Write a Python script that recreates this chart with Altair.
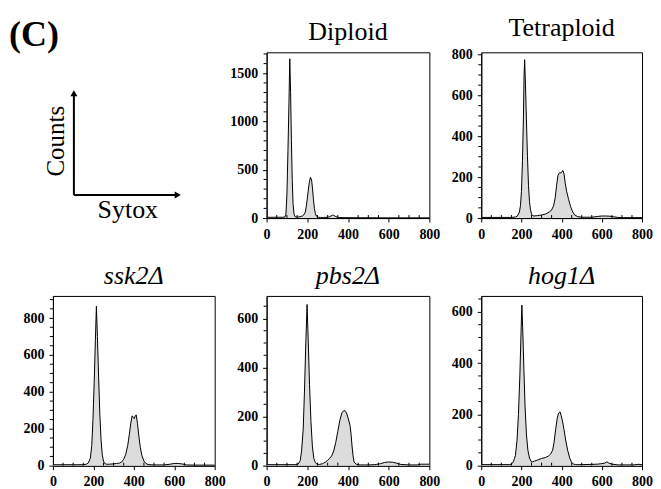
import altair as alt
import pandas as pd

FONT = "Liberation Serif"

# ---------------- data ----------------
dip_x = [0, 20, 40, 60, 80, 90, 95, 100, 105, 110, 114, 118, 122, 126, 130, 135, 140, 150, 160, 170,
         175, 180, 190, 195, 200, 205, 210, 215, 218, 222, 226, 230, 235, 240, 245, 250, 256, 265, 280,
         300, 310, 320, 325, 330, 340, 350, 360, 380, 400, 450, 500, 600, 700, 800]
dip_y = [8, 8, 8, 8, 8, 10, 40, 250, 700, 1200, 1650, 1300, 800, 400, 150, 40, 15, 10, 12, 18,
         20, 25, 60, 120, 200, 290, 370, 420, 415, 380, 300, 200, 100, 45, 20, 12, 8, 6, 6,
         8, 15, 25, 30, 28, 15, 8, 5, 4, 4, 3, 3, 2, 2, 2]

tet_x = [0, 50, 100, 150, 170, 180, 190, 195, 200, 205, 210, 213, 216, 220, 225, 230, 235, 240, 245,
         250, 255, 262, 280, 300, 320, 340, 350, 360, 368, 375, 382, 390, 396, 402, 407, 412, 418,
         425, 435, 445, 455, 465, 480, 500, 550, 580, 600, 620, 640, 660, 680, 700, 800]
tet_y = [3, 3, 3, 3, 5, 10, 30, 60, 130, 280, 500, 700, 775, 650, 470, 300, 160, 80, 40,
         20, 12, 10, 12, 15, 20, 30, 40, 60, 100, 160, 210, 222, 220, 228, 232, 215, 170,
         130, 90, 55, 30, 15, 7, 4, 4, 8, 10, 10, 9, 6, 3, 2, 2]

ssk_x = [0, 50, 100, 150, 165, 175, 185, 192, 198, 204, 210, 215, 220, 226, 232, 238, 244, 250, 256,
         265, 280, 300, 315, 330, 340, 350, 360, 370, 378, 385, 392, 397, 402, 407, 412, 418, 425,
         432, 440, 450, 460, 470, 480, 500, 550, 580, 600, 620, 640, 660, 700, 800]
ssk_y = [5, 5, 5, 5, 8, 15, 40, 110, 250, 450, 680, 864, 700, 480, 280, 140, 60, 25, 12,
         8, 8, 10, 12, 14, 20, 35, 60, 110, 170, 230, 270, 262, 255, 270, 275, 230, 160,
         100, 55, 25, 12, 6, 5, 4, 4, 8, 12, 12, 9, 4, 3, 3]

pbs_x = [0, 50, 100, 140, 155, 165, 172, 180, 186, 192, 199, 205, 211, 218, 225, 232, 240, 248, 260,
         275, 290, 300, 310, 320, 330, 340, 350, 360, 370, 380, 388, 395, 402, 410, 415, 420, 425,
         430, 440, 450, 460, 480, 500, 530, 560, 580, 600, 620, 640, 660, 700, 740, 760, 780, 800]
pbs_y = [4, 4, 4, 4, 6, 20, 60, 150, 300, 480, 657, 500, 330, 180, 80, 30, 12, 6, 5,
         8, 15, 22, 30, 40, 60, 95, 140, 185, 215, 225, 222, 210, 190, 165, 130, 80, 40,
         15, 6, 4, 3, 3, 3, 4, 8, 13, 15, 14, 10, 5, 3, 3, 6, 6, 6]

hog_x = [0, 50, 100, 140, 150, 160, 170, 178, 185, 192, 198, 202, 206, 212, 218, 225, 232, 240, 248,
         255, 265, 280, 300, 320, 335, 345, 355, 362, 370, 378, 385, 392, 398, 405, 412, 420, 430,
         440, 450, 460, 470, 480, 500, 550, 580, 600, 615, 625, 635, 650, 680, 720, 760, 780, 790, 800]
hog_y = [4, 4, 4, 4, 6, 15, 40, 100, 200, 350, 520, 626, 540, 380, 230, 120, 60, 30, 16,
         15, 18, 22, 28, 32, 38, 45, 60, 90, 140, 185, 205, 210, 195, 170, 140, 100, 60,
         30, 12, 6, 4, 4, 4, 5, 6, 8, 10, 15, 10, 6, 3, 3, 3, 5, 5, 3]

x_major = [0, 200, 400, 600, 800]
x_minor = [50, 100, 150, 250, 300, 350, 450, 500, 550, 650, 700, 750]


def axis(values):
    return alt.Axis(values=values, title=None, format="d", labelFont=FONT, labelFontSize=14,
                    labelFontWeight="bold", labelColor="black", tickColor="black", tickSize=4,
                    tickWidth=1, domainColor="black", domainWidth=1, grid=False,
                    labelPadding=5, labelFlush=False, labelOverlap=False)


def panel(title, italic, xs, ys, ymax, ymajor, ystep_minor, width, height):
    df = pd.DataFrame({"x": xs, "y": ys})
    xscale = alt.Scale(domain=[0, 800], nice=False, zero=False)
    yscale = alt.Scale(domain=[0, ymax], nice=False)
    xaxis = axis(x_major)
    yaxis = axis(ymajor)
    base = alt.Chart(df)
    area = base.mark_area(color="#dcdcdc", opacity=1).encode(
        x=alt.X("x:Q", scale=xscale, axis=xaxis),
        y=alt.Y("y:Q", scale=yscale, axis=yaxis),
    )
    line = base.mark_line(color="black", strokeWidth=1).encode(
        x=alt.X("x:Q", scale=xscale, axis=xaxis),
        y=alt.Y("y:Q", scale=yscale, axis=yaxis),
    )
    yminor = [v for v in range(0, int(ymax) + 1, ystep_minor) if v not in ymajor]
    xt = alt.Chart(pd.DataFrame({"x": x_minor})).mark_rule(color="black", strokeWidth=1).encode(
        x=alt.X("x:Q", scale=xscale, axis=xaxis),
        y=alt.value(height), y2=alt.value(height - 3),
    )
    yt = alt.Chart(pd.DataFrame({"y": yminor})).mark_rule(color="black", strokeWidth=1).encode(
        y=alt.Y("y:Q", scale=yscale, axis=yaxis),
        x=alt.value(0), x2=alt.value(-3),
    )
    t = alt.Title(title, font=FONT, fontSize=26, fontWeight="normal",
                  fontStyle="italic" if italic else "normal", color="black",
                  offset=7, anchor="middle")
    return alt.layer(area, line, xt, yt).properties(width=width, height=height, title=t)


# schematic cell "(C)" + axes arrows
one = pd.DataFrame({"a": [0]})
sb = alt.Chart(one)
# white corner anchor: fixes the chart's top-left corner
anchor = sb.mark_rule(color="white", strokeWidth=1).encode(
    x=alt.value(-44), x2=alt.value(-40), y=alt.value(-43))
label_c = sb.mark_text(font=FONT, fontSize=36, fontWeight="bold", align="left",
                       baseline="alphabetic", color="black").encode(
    x=alt.value(-44), y=alt.value(-6), text=alt.value("(C)"))
vline = sb.mark_rule(color="black", strokeWidth=2).encode(
    x=alt.value(21), y=alt.value(42), y2=alt.value(143))
hline = sb.mark_rule(color="black", strokeWidth=2).encode(
    x=alt.value(21), x2=alt.value(124), y=alt.value(143))
up_head = sb.mark_point(shape="triangle-up", filled=True, color="black", size=50, opacity=1).encode(
    x=alt.value(21), y=alt.value(41))
right_head = sb.mark_point(shape="triangle-right", filled=True, color="black", size=50, opacity=1).encode(
    x=alt.value(125), y=alt.value(143))
counts = sb.mark_text(font=FONT, fontSize=25, angle=270, align="center",
                      baseline="alphabetic", color="black").encode(
    x=alt.value(11), y=alt.value(89), text=alt.value("Counts"))
sytox = sb.mark_text(font=FONT, fontSize=26, align="center",
                     baseline="alphabetic", color="black").encode(
    x=alt.value(75), y=alt.value(166), text=alt.value("Sytox"))
schem = alt.layer(anchor, label_c, vline, hline, up_head, right_head, counts, sytox).properties(
    width=162, height=166, view=alt.ViewBackground(stroke="transparent"))

p_dip = panel("Diploid", False, dip_x, dip_y, 1717, [0, 500, 1000, 1500], 100, 163, 166)
p_tet = panel("Tetraploid", False, tet_x, tet_y, 811, [0, 200, 400, 600, 800], 50, 161, 166)
p_ssk = panel("ssk2Δ", True, ssk_x, ssk_y, 920, [0, 200, 400, 600, 800], 50, 162, 170)
p_pbs = panel("pbs2Δ", True, pbs_x, pbs_y, 692, [0, 200, 400, 600], 50, 163, 170)
p_hog = panel("hog1Δ", True, hog_x, hog_y, 662, [0, 200, 400, 600], 50, 161, 170)

chart = alt.concat(schem, p_dip, p_tet, p_ssk, p_pbs, p_hog, columns=3,
                   spacing={"row": 78, "column": 52}, bounds="flush", align="each").properties(
    padding={"left": 0, "top": 0, "right": 0, "bottom": 0}
).configure_view(stroke="black", strokeWidth=1).configure_axis(
    labelFont=FONT, labelFontSize=14, labelFontWeight="bold", labelColor="black"
)

chart.save("out.html", embed_options={"renderer": "svg", "actions": False})
